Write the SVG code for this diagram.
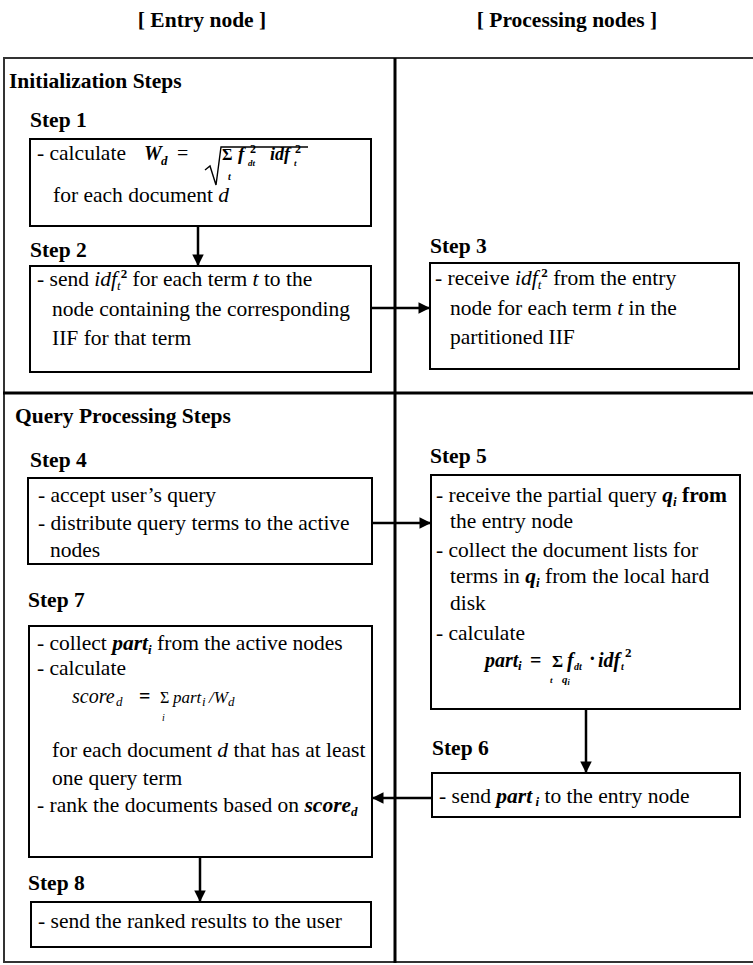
<svg xmlns="http://www.w3.org/2000/svg" width="753" height="965" viewBox="0 0 753 965">
<defs>
<marker id="ah" viewBox="0 0 10 10" refX="10" refY="5" markerWidth="5.2" markerHeight="4.6" orient="auto" markerUnits="strokeWidth">
<path d="M0,0 L10,5 L0,10 z" fill="#000"/>
</marker>
<style>
text { font-family: "Liberation Serif", "Times New Roman", serif; fill:#000; font-size:21.5px; }
.h { font-weight:bold; }
.s { font-weight:bold; }
.i { font-style:italic; }
.bi { font-style:italic; font-weight:bold; }
.b { font-weight:bold; }
.sm { font-size:13px; }
.xs { font-size:11px; }
.box { fill:#fff; stroke:#000; stroke-width:2; }
.frame { stroke:#333; fill:none; stroke-width:2; }
.div { stroke:#000; fill:none; stroke-width:3; }
.conn { stroke:#000; stroke-width:2.5; fill:none; marker-end:url(#ah); }
.rad { stroke:#000; stroke-width:1.4; fill:none; }
</style>
</defs>

<g id="headers">
<text class="h" x="202" y="27" text-anchor="middle">[ Entry node ]</text>
<text class="h" x="567" y="27" text-anchor="middle">[ Processing nodes ]</text>
</g>

<g id="frame">
<line class="frame" x1="3" y1="58" x2="753" y2="58"/>
<line class="frame" x1="4" y1="58" x2="4" y2="963"/>
<line class="frame" x1="3" y1="962" x2="753" y2="962"/>
<line class="div" x1="395" y1="58" x2="395" y2="963"/>
<line class="div" x1="3" y1="393" x2="753" y2="393"/>
<text class="h" x="9" y="88">Initialization Steps</text>
<text class="h" x="15" y="423">Query Processing Steps</text>
</g>

<g id="step1">
<text class="s" x="30" y="127">Step 1</text>
<rect class="box" x="30" y="139" width="341" height="87"/>
<text x="37" y="160">- calculate</text>
<text class="bi" x="144" y="160" style="font-size:20px">W</text>
<text class="bi sm" x="161" y="165">d</text>
<text x="177" y="160" style="font-size:20px">=</text>
<path class="rad" d="M205,170 L210,166 L216,185 L221,147 L308,147"/>
<text class="b" x="222" y="160" style="font-size:16px">Σ</text>
<text class="bi" x="228" y="180" style="font-size:10px">t</text>
<text class="bi" x="238" y="160" style="font-size:19px">f</text>
<text class="b" x="250" y="153" style="font-size:12px">2</text>
<text class="bi" x="248" y="166" style="font-size:9px">dt</text>
<text class="bi" x="270" y="160" style="font-size:18px">idf</text>
<text class="b" x="295" y="153" style="font-size:12px">2</text>
<text class="bi" x="294" y="166" style="font-size:9px">t</text>
<text x="53" y="202">for each document <tspan class="i">d</tspan></text>
</g>

<g id="step2">
<text class="s" x="30" y="257">Step 2</text>
<rect class="box" x="30" y="266" width="341" height="106"/>
<text x="37" y="286">- send <tspan class="i">idf</tspan><tspan class="i sm" dy="4">t</tspan><tspan class="b sm" dy="-12">2</tspan><tspan dy="8"> for each term </tspan><tspan class="i">t</tspan> to the</text>
<text x="52" y="316">node containing the corresponding</text>
<text x="52" y="345">IIF for that term</text>
</g>

<g id="step3">
<text class="s" x="430" y="253">Step 3</text>
<rect class="box" x="430" y="263" width="309" height="106"/>
<text x="435" y="285">- receive <tspan class="i">idf</tspan><tspan class="i sm" dy="4">t</tspan><tspan class="b sm" dy="-12">2</tspan><tspan dy="8"> from the entry</tspan></text>
<text x="450" y="315">node for each term <tspan class="i">t</tspan> in the</text>
<text x="450" y="344">partitioned IIF</text>
</g>

<g id="step4">
<text class="s" x="30" y="467">Step 4</text>
<rect class="box" x="28" y="478" width="344" height="86"/>
<text x="38" y="502">- accept user’s query</text>
<text x="38" y="530">- distribute query terms to the active</text>
<text x="50" y="557">nodes</text>
</g>

<g id="step5">
<text class="s" x="430" y="463">Step 5</text>
<rect class="box" x="431" y="475" width="309" height="234"/>
<text x="436" y="502">- receive the partial query <tspan class="bi">q</tspan><tspan class="bi sm" dy="4">i</tspan><tspan class="b" dy="-4"> from</tspan></text>
<text x="450" y="528">the entry node</text>
<text x="436" y="557">- collect the document lists for</text>
<text x="450" y="583">terms in <tspan class="bi">q</tspan><tspan class="bi sm" dy="4">i</tspan><tspan dy="-4"> from the local hard</tspan></text>
<text x="450" y="610">disk</text>
<text x="436" y="640">- calculate</text>
<text class="bi" x="485" y="667" style="font-size:20px">part</text>
<text class="bi sm" x="518" y="670">i</text>
<text class="b" x="530" y="667" style="font-size:20px">=</text>
<text class="b" x="552" y="667" style="font-size:17px">Σ</text>
<text class="bi" x="550" y="683" style="font-size:9px">t</text>
<text class="bi" x="562" y="683" style="font-size:11px">q<tspan style="font-size:8px" dy="2">i</tspan></text>
<text class="bi" x="567" y="667" style="font-size:20px">f</text>
<text class="bi" x="574" y="670" style="font-size:10px">dt</text>
<text class="b" x="589" y="665" style="font-size:20px">·</text>
<text class="bi" x="598" y="667" style="font-size:20px">idf</text>
<text class="bi" x="621" y="670" style="font-size:10px">t</text>
<text class="b" x="625" y="657" style="font-size:13px">2</text>
</g>

<g id="step6">
<text class="s" x="432" y="755">Step 6</text>
<rect class="box" x="432" y="773" width="308" height="44"/>
<text x="439" y="803">- send <tspan class="bi">part</tspan><tspan class="bi sm" dy="3"> i</tspan><tspan dy="-3"> to the entry node</tspan></text>
</g>

<g id="step7">
<text class="s" x="28" y="607">Step 7</text>
<rect class="box" x="29" y="626" width="343" height="231"/>
<text x="37" y="650">- collect <tspan class="bi">part</tspan><tspan class="bi sm" dy="4">i</tspan><tspan dy="-4"> from the active nodes</tspan></text>
<text x="37" y="675">- calculate</text>
<text class="i" x="72" y="703" style="font-size:20px">score</text>
<text class="i sm" x="116" y="706">d</text>
<text class="b" x="139" y="703" style="font-size:20px">=</text>
<text x="160" y="703" style="font-size:16px">Σ</text>
<text class="i" x="162" y="721" style="font-size:10px">i</text>
<text class="i" x="173" y="703" style="font-size:17px">part</text>
<text class="i sm" x="202" y="706">i</text>
<text class="i" x="209" y="703" style="font-size:17px">/W</text>
<text class="i sm" x="228" y="706">d</text>
<text x="52" y="757">for each document <tspan class="i">d</tspan> that has at least</text>
<text x="52" y="785">one query term</text>
<text x="37" y="812">- rank the documents based on <tspan class="bi">score</tspan><tspan class="bi sm" dy="4">d</tspan></text>
</g>

<g id="step8">
<text class="s" x="28" y="890">Step 8</text>
<rect class="box" x="31" y="902" width="340" height="45"/>
<text x="38" y="928">- send the ranked results to the user</text>
</g>

<g id="connectors">
<line class="conn" x1="198" y1="226" x2="198" y2="266"/>
<line class="conn" x1="371" y1="308" x2="430" y2="308"/>
<line class="conn" x1="372" y1="523" x2="431" y2="523"/>
<line class="conn" x1="586" y1="709" x2="586" y2="773"/>
<line class="conn" x1="432" y1="798" x2="372" y2="798"/>
<line class="conn" x1="200" y1="857" x2="200" y2="902"/>
</g>
</svg>
